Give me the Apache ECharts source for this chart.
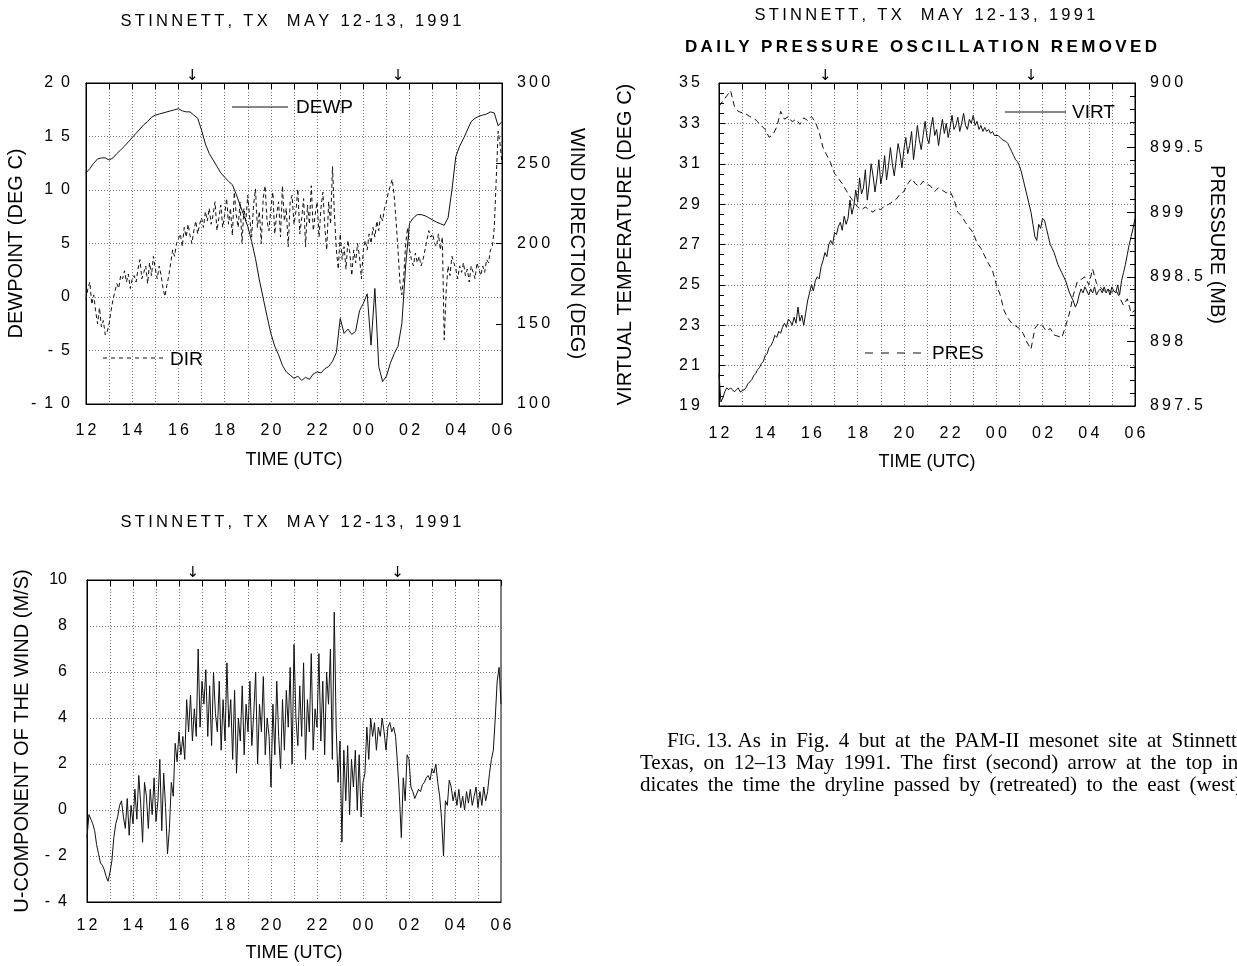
<!DOCTYPE html>
<html><head><meta charset="utf-8">
<script src="https://cdn.jsdelivr.net/npm/echarts/dist/echarts.min.js"></script>
<style>html,body{margin:0;padding:0;background:#fff}#c{width:1237px;height:966px}</style>
</head><body><div id="c"></div>
<script>
// ---------------- DATA ----------------
// time origin: 12 UTC, 12 May 1991 ; hours run 12 .. 30 (= 06 UTC 13 May)
const START_HOUR = 12;
const END_HOUR = 30;
const xTickHours = [12,14,16,18,20,22,24,26,28,30];
const arrowHours = [16.6, 25.5];   // dryline passage / retreat arrows

// Dewpoint (deg C), 10-min samples
const dewpStepMin = 10;
const dewp = [
 11.6, 12.0, 12.5, 12.9, 13.0, 13.0,
 12.8, 13.0, 13.4, 13.75, 14.1, 14.5,
 14.9, 15.3, 15.7, 16.1, 16.4, 16.8,
 17.0, 17.1, 17.2, 17.3, 17.4, 17.5,
 17.6, 17.4, 17.3, 17.3, 17.0, 16.7,
 15.6, 14.3, 13.4, 12.8, 12.2, 11.6,
 11.2, 10.8, 10.5, 9.6, 8.6, 7.6,
 6.6, 5.2, 3.6, 1.6, -0.1, -1.8,
 -3.4, -4.6, -5.4, -6.4, -7.0, -7.3,
 -7.6, -7.4, -7.8, -7.5, -7.7, -7.2,
 -7.0, -7.1, -6.7, -6.5, -6.0, -5.2,
 -2.0, -3.4, -3.0, -3.5, -3.2, -1.3,
 -0.6, 0.3, -4.5, 0.8, -6.5, -7.9,
 -7.4, -6.2, -5.3, -4.6, -2.5, 3.0,
 6.9, 7.4, 7.7, 7.7, 7.6, 7.4,
 7.2, 7.0, 6.85, 6.7, 7.4, 10.0,
 13.1, 14.1, 14.8, 15.6, 16.4, 16.7,
 16.9, 17.0, 17.1, 17.3, 17.2, 16.0,
 16.4
];

// Wind direction (deg), 5-min samples
const dirStepMin = 5;
const windDir = [
 165, 172, 176, 162, 168, 158, 150, 160, 148, 152, 143, 145, 150,
 158, 165, 170, 175, 172, 180, 178, 183, 176, 181, 172, 178,
 180, 176, 184, 190, 178, 182, 186, 175, 188, 180, 192, 184,
 178, 186, 180, 172, 167, 174, 180, 188, 196, 192, 200, 203,
 206, 198, 210, 204, 212, 205, 200, 208, 214, 206, 212, 216,
 210, 220, 214, 222, 212, 218, 226, 208, 216, 224, 210, 218,
 228, 212, 222, 205, 232, 218, 210, 226, 200, 222, 214, 230,
 216, 204, 224, 234, 210, 220, 200, 228, 236, 214, 208, 222,
 232, 206, 218, 226, 204, 236, 214, 222, 198, 226, 230, 212,
 220, 234, 206, 216, 228, 198, 224, 212, 236, 208, 218, 226,
 204, 222, 232, 210, 196, 226, 212, 248, 218, 196, 184, 206,
 190, 198, 184, 202, 194, 180, 196, 188, 200, 192, 178, 196,
 202, 196, 206, 200, 210, 204, 214, 208, 218, 214, 222, 226,
 232, 236, 240, 230, 214, 196, 176, 168, 180, 200, 210, 196,
 190, 186, 194, 188, 192, 186, 190, 196, 202, 208, 204, 206,
 200, 198, 206, 196, 204, 140, 170, 186, 180, 192, 188, 184,
 178, 186, 182, 188, 180, 184, 176, 186, 182, 178, 188, 184,
 180, 186, 182, 190, 188, 196, 198, 210, 240, 270, 262, 250
];

// Virtual temperature (deg C), 5-min samples
const virtStepMin = 5;
const virt = [
 20.6, 19.2, 19.4, 19.7, 19.9, 19.8, 19.9, 19.8, 19.7, 19.8, 19.9, 19.7, 19.7,
 19.8, 19.9, 20.1, 20.2, 20.3, 20.5, 20.6, 20.8, 20.9, 21.1, 21.2, 21.5,
 21.6, 21.9, 22.0, 22.2, 22.5, 22.4, 22.7, 22.6, 22.9, 23.1, 22.9, 23.3,
 23.2, 23.0, 23.4, 23.1, 23.9, 23.2, 23.5, 23.0, 23.6, 24.2, 24.6, 25.0,
 24.7, 25.2, 25.4, 25.3, 25.9, 26.2, 26.6, 26.4, 27.0, 27.2, 27.0, 27.6,
 27.5, 27.9, 28.1, 27.7, 28.4, 28.0, 28.3, 29.2, 28.5, 28.9, 29.7, 29.1,
 30.3, 29.5, 29.8, 30.7, 29.2, 30.0, 31.0, 30.4, 29.6, 30.3, 31.2, 30.0,
 30.5, 31.4, 30.2, 30.9, 31.8, 31.0, 30.4, 31.2, 32.0, 31.5, 30.8, 31.7,
 32.3, 31.5, 31.9, 32.6, 31.2, 32.0, 32.9, 32.2, 31.7, 32.4, 33.1, 32.3,
 32.0, 32.8, 33.3, 32.4, 32.7, 31.9, 32.6, 33.2, 32.5, 33.0, 32.3, 32.8,
 33.4, 32.7, 32.9, 33.3, 32.6, 33.0, 33.5, 32.9, 32.7, 33.2, 33.0, 33.4,
 32.9, 33.1, 32.7, 32.9, 32.6, 32.8, 32.6, 32.7, 32.5, 32.6, 32.4, 32.4,
 32.4, 32.3, 32.2, 32.2, 32.1, 32.0, 31.8, 31.6, 31.4, 31.2, 31.1, 30.9,
 30.6, 30.2, 29.8, 29.4, 29.0, 28.6, 28.0, 27.4, 27.2, 28.0, 27.8, 28.3,
 28.2, 27.8, 27.4, 27.0, 26.8, 26.6, 26.3, 26.0, 25.8, 25.6, 25.4, 25.2,
 24.9, 24.6, 24.4, 24.2, 23.9, 24.1, 24.5, 24.8, 24.6, 24.9, 24.7, 24.5,
 24.8, 24.6, 24.9, 24.5, 24.7, 24.8, 24.6, 24.9, 24.6, 24.8, 24.5, 24.9,
 24.7, 24.6, 25.0, 24.5, 25.2, 25.6, 26.0, 26.5, 27.0, 27.4, 27.8, 28.3
];

// Pressure (mb), daily oscillation removed, 10-min samples
const presStepMin = 10;
const pres = [
 899.82, 899.86, 899.90, 899.94, 899.82, 899.78,
 899.77, 899.76, 899.74, 899.73, 899.70, 899.67,
 899.64, 899.58, 899.60, 899.66, 899.78, 899.72,
 899.74, 899.70, 899.72, 899.68, 899.73, 899.71,
 899.74, 899.70, 899.62, 899.50, 899.44, 899.38,
 899.30, 899.26, 899.22, 899.17, 899.12, 899.08,
 899.04, 899.02, 899.04, 899.02, 899.00, 899.03,
 899.02, 899.05, 899.06, 899.08, 899.10, 899.14,
 899.16, 899.22, 899.26, 899.22, 899.20, 899.24,
 899.22, 899.20, 899.16, 899.19, 899.17, 899.15,
 899.16, 899.10, 899.00, 898.97, 898.92, 898.88,
 898.84, 898.76, 898.72, 898.66, 898.60, 898.55,
 898.44, 898.36, 898.24, 898.18, 898.14, 898.12,
 898.10, 898.06, 897.99, 897.94, 898.10, 898.14,
 898.12, 898.08, 898.10, 898.05, 898.04, 898.03,
 898.12, 898.22, 898.36, 898.46, 898.48, 898.50,
 898.44, 898.56, 898.45, 898.42, 898.39, 898.40,
 898.38, 898.40, 898.34, 898.28, 898.33, 898.22,
 898.24
];

// U-component of the wind (m/s), 5-min samples
const uStepMin = 5;
const uWind = [
 -1.2, -0.2, -0.4, -0.6, -0.9, -1.5, -1.9, -2.3, -2.4, -2.6, -2.9, -3.1, -2.7,
 -2.2, -1.2, -0.6, -0.3, 0.2, 0.4, -0.3, -0.8, 0.5, -1.1, 0.2, -0.6,
 0.9, -0.4, 1.5, 0.3, -1.4, 1.2, 0.6, -0.8, 0.9, -0.2, 1.4, -0.5,
 0.4, 2.2, -0.9, 1.6, 0.1, -1.9, -0.8, 1.2, 0.6, 2.9, 2.1, 3.4,
 2.4, 3.2, 2.2, 4.8, 3.4, 5.0, 3.0, 4.4, 3.2, 7.0, 3.6, 5.6,
 4.6, 6.1, 3.2, 5.4, 2.8, 6.0, 4.2, 3.4, 5.6, 2.6, 4.8, 3.0,
 6.4, 3.6, 4.8, 2.2, 5.2, 1.6, 4.0, 3.0, 5.4, 2.4, 4.6, 3.4,
 5.6, 2.8, 4.2, 6.0, 2.0, 4.6, 3.4, 5.8, 2.4, 4.0, 3.2, 1.0,
 4.6, 2.4, 5.6, 3.2, 1.8, 4.8, 2.6, 5.2, 3.6, 6.2, 2.0, 7.2,
 4.0, 2.8, 5.4, 3.2, 6.4, 2.2, 4.8, 3.4, 6.8, 2.6, 4.4, 3.6,
 6.8, 3.0, 5.6, 2.4, 6.0, 4.6, 7.0, 2.2, 8.6, 3.6, 1.2, 3.0,
 -1.4, 2.6, 0.4, 2.8, -0.2, 2.2, 1.0, 2.6, 0.0, 2.4, -0.3, 1.2,
 1.6, 3.6, 2.2, 4.0, 3.2, 3.8, 2.6, 3.6, 3.2, 4.0, 3.4, 2.6,
 3.6, 3.8, 3.4, 3.6, 3.2, 2.0, 0.6, -1.2, 1.4, 0.4, 2.4, 2.2,
 1.0, 0.8, 0.5, 0.7, 0.9, 0.8, 1.1, 1.2, 1.4, 1.5, 1.3, 1.8,
 1.6, 2.0, 1.2, 0.6, -0.4, -2.0, 0.4, 0.2, 1.3, 1.0, 0.4, 0.8,
 0.2, 0.9, 0.1, 0.6, 0.0, 0.8, 0.3, 0.9, 0.2, 0.6, 1.0, 0.1,
 0.8, 0.2, 1.0, 0.4, 0.8, 1.6, 2.2, 2.6, 4.0, 5.6, 6.2, 4.6
];

// texts
const panelTitle = 'STINNETT, TX  MAY 12-13, 1991';
const subTitle = 'DAILY PRESSURE OSCILLATION REMOVED';
const captionLines = [
  'As in Fig. 4 but at the PAM-II mesonet site at Stinnett,',
  'Texas, on 12\u201313 May 1991. The first (second) arrow at the top in-',
  'dicates the time the dryline passed by (retreated) to the east (west).'
];

// ---------------- HELPERS ----------------
const SANS = '"Liberation Sans", Arial, Helvetica, sans-serif';
const SERIF = '"Liberation Serif", "Times New Roman", serif';
const EN = '\u2002', TH = '\u2009';
const spaced = (s, sep) => Array.from(s).join(sep);
const justify = s => s.split(' ').join(' ' + TH);   // widened word gaps (justified print)
const pairs = (arr, stepMin) => arr.map((v, i) => [START_HOUR + i * stepMin / 60, v]);
const hourLabel = v => {
  const h = Math.round(v);
  if (xTickHours.indexOf(h) < 0) return '';
  return spaced(String(h % 24).padStart(2, '0'), TH);
};
const gridDots = {show: true, lineStyle: {color: '#777', width: 1, type: [1, 2]}};

const grids = [
  {left: 86, top: 83, width: 416, height: 321},
  {left: 719, top: 83, width: 416, height: 323},
  {left: 87, top: 580, width: 414, height: 322}
].map(g => Object.assign({show: true, borderColor: '#000', borderWidth: 1, backgroundColor: 'transparent', containLabel: false}, g));

function bottomX(g, margin, nameGap) {
  return {gridIndex: g, type: 'value', min: START_HOUR, max: END_HOUR, interval: 1, position: 'bottom',
    axisLine: {show: true, onZero: false, lineStyle: {color: '#000', width: 1}},
    axisTick: {show: false}, splitLine: gridDots,
    axisLabel: {formatter: hourLabel, color: '#000', fontSize: 16, fontFamily: SANS, margin: margin, showMinLabel: true, showMaxLabel: true},
    name: 'TIME (UTC)', nameLocation: 'middle', nameGap: nameGap,
    nameTextStyle: {color: '#000', fontSize: 18, fontFamily: SANS}};
}
function topX(g) {
  return {gridIndex: g, type: 'value', min: START_HOUR, max: END_HOUR, interval: 1, position: 'top',
    axisLine: {show: true, onZero: false, lineStyle: {color: '#000', width: 1}},
    axisTick: {show: true, inside: true, length: 6, lineStyle: {color: '#000'}},
    axisLabel: {show: false}, splitLine: {show: false}};
}
function yAx(o) {
  const base = {type: 'value', axisLine: {show: true, onZero: false, lineStyle: {color: '#000', width: 1}},
    axisTick: {show: false}, splitLine: {show: false},
    nameLocation: 'middle', nameTextStyle: {color: '#000', fontSize: 20, fontFamily: SANS}};
  const r = Object.assign(base, o);
  r.axisLabel = Object.assign({color: '#000', fontSize: 16, fontFamily: SANS, showMinLabel: true, showMaxLabel: true}, o.axisLabel || {});
  return r;
}

const option = {
  animation: false,
  backgroundColor: '#fff',
  grid: grids,
  xAxis: [bottomX(0, 19, 47), topX(0), bottomX(1, 20, 47), topX(1), bottomX(2, 16, 42), topX(2)],
  yAxis: [
    yAx({gridIndex: 0, position: 'left', min: -10, max: 20, interval: 5, splitLine: gridDots,
      axisLabel: {margin: 16, formatter: v => (v < 0 ? '-' + EN : '') + spaced(String(Math.abs(v)), EN)},
      name: 'DEWPOINT (DEG C)', nameRotate: 90, nameGap: 54}),
    yAx({gridIndex: 0, position: 'right', min: 100, max: 300, interval: 50,
      axisTick: {show: true, inside: true, length: 6, lineStyle: {color: '#000'}},
      axisLabel: {margin: 15, formatter: v => spaced(String(v), TH)},
      name: 'WIND DIRECTION (DEG)', nameRotate: -90, nameGap: 65}),
    yAx({gridIndex: 1, position: 'left', min: 19, max: 35, interval: 2, splitLine: gridDots,
      axisTick: {show: true, inside: true, length: 6, lineStyle: {color: '#000'}},
      minorTick: {show: true, splitNumber: 4, length: 5, lineStyle: {color: '#000'}},
      axisLabel: {margin: 19, formatter: v => spaced(String(v), TH)},
      name: 'VIRTUAL TEMPERATURE (DEG C)', nameRotate: 90, nameGap: 84}),
    yAx({gridIndex: 1, position: 'right', min: 897.5, max: 900, interval: 0.5,
      axisTick: {show: true, inside: true, length: 8, lineStyle: {color: '#000'}},
      minorTick: {show: true, splitNumber: 5, length: 5, lineStyle: {color: '#000'}},
      axisLabel: {margin: 15, formatter: v => spaced(Number.isInteger(v) ? String(v) : v.toFixed(1), TH)},
      name: 'PRESSURE (MB)', nameRotate: -90, nameGap: 72}),
    yAx({gridIndex: 2, position: 'left', min: -4, max: 10, interval: 2, splitLine: gridDots,
      axisLabel: {margin: 20, formatter: v => (v < 0 ? '-' + EN + Math.abs(v) : String(v))},
      name: 'U-COMPONENT OF THE WIND (M/S)', nameRotate: 90, nameGap: 55})
  ],
  series: [
    {name: 'DEWP', type: 'line', xAxisIndex: 0, yAxisIndex: 0, data: pairs(dewp, dewpStepMin), showSymbol: false, symbol: 'none',
      lineStyle: {color: '#111', width: 1}},
    {name: 'DIR', type: 'line', xAxisIndex: 0, yAxisIndex: 1, data: pairs(windDir, dirStepMin), showSymbol: false, symbol: 'none',
      lineStyle: {color: '#111', width: 1, type: [4, 3]}},
    {name: 'VIRT', type: 'line', xAxisIndex: 2, yAxisIndex: 2, data: pairs(virt, virtStepMin), showSymbol: false, symbol: 'none',
      lineStyle: {color: '#111', width: 1}},
    {name: 'PRES', type: 'line', xAxisIndex: 2, yAxisIndex: 3, data: pairs(pres, presStepMin), showSymbol: false, symbol: 'none',
      lineStyle: {color: '#111', width: 1, type: [6, 4]}},
    {name: 'U', type: 'line', xAxisIndex: 4, yAxisIndex: 4, data: pairs(uWind, uStepMin), showSymbol: false, symbol: 'none',
      lineStyle: {color: '#111', width: 1}}
  ]
};

const chart = echarts.init(document.getElementById('c'), null, {renderer: 'canvas'});
chart.setOption(option);

// ---------- annotations (titles, legends, arrows, caption) ----------
const txt = (id, x, y, text, font, extra) => Object.assign({type: 'text', id: id, x: x, y: y,
  style: Object.assign({text: text, fill: '#000', font: font, textAlign: 'center', textVerticalAlign: 'middle'}, extra || {})});
const seg = (id, x1, y, x2, dash) => ({type: 'line', id: id, shape: {x1: x1, y1: y, x2: x2, y2: y},
  style: {stroke: '#111', lineWidth: 1, lineDash: dash || null}});

const titleFont = '16.5px ' + SANS;
const capFont = '21px ' + SERIF;
const graphics = [
  txt('t1', 291, 21, spaced(panelTitle, TH), titleFont),
  txt('t2', 925, 15, spaced(panelTitle, TH), titleFont),
  txt('t3', 291, 522, spaced(panelTitle, TH), titleFont),
  txt('t4', 921, 47, spaced(subTitle, TH), 'bold 17px ' + SANS),
  seg('l1', 232, 107, 288), txt('lt1', 296, 108, 'DEWP', '19px ' + SANS, {textAlign: 'left'}),
  seg('l2', 103, 358, 165, [4, 4]), txt('lt2', 170, 360, 'DIR', '19px ' + SANS, {textAlign: 'left'}),
  seg('l3', 1005, 112, 1066), txt('lt3', 1072, 113, 'VIRT', '19px ' + SANS, {textAlign: 'left'}),
  seg('l4', 865, 353, 925, [8, 8]), txt('lt4', 932, 354, 'PRES', '19px ' + SANS, {textAlign: 'left'}),
  {type: 'text', id: 'cap1', x: 667, y: 741, style: {
    text: '{a|F}{b|IG}{c|. 13. ' + justify(captionLines[0]) + '}', textVerticalAlign: 'middle', textAlign: 'left',
    rich: {a: {font: capFont, fill: '#000'}, b: {font: '16px ' + SERIF, fill: '#000'}, c: {font: capFont, fill: '#000'}}}},
  txt('cap2', 640, 763, justify(captionLines[1]), capFont, {textAlign: 'left'}),
  txt('cap3', 640, 785, justify(captionLines[2]), capFont, {textAlign: 'left'})
];
[0, 2, 4].forEach((ax, gi) => {
  const top = grids[gi].top;
  arrowHours.forEach((h, j) => {
    const px = chart.convertToPixel({xAxisIndex: ax}, h);
    graphics.push({type: 'text', id: 'ar' + gi + '_' + j, x: px, y: top + 1,
      style: {text: '\u2193', fill: '#000', font: '15px "DejaVu Sans", sans-serif', textAlign: 'center', textVerticalAlign: 'bottom'}});
  });
});
chart.setOption({graphic: graphics});
</script>
</body></html>
